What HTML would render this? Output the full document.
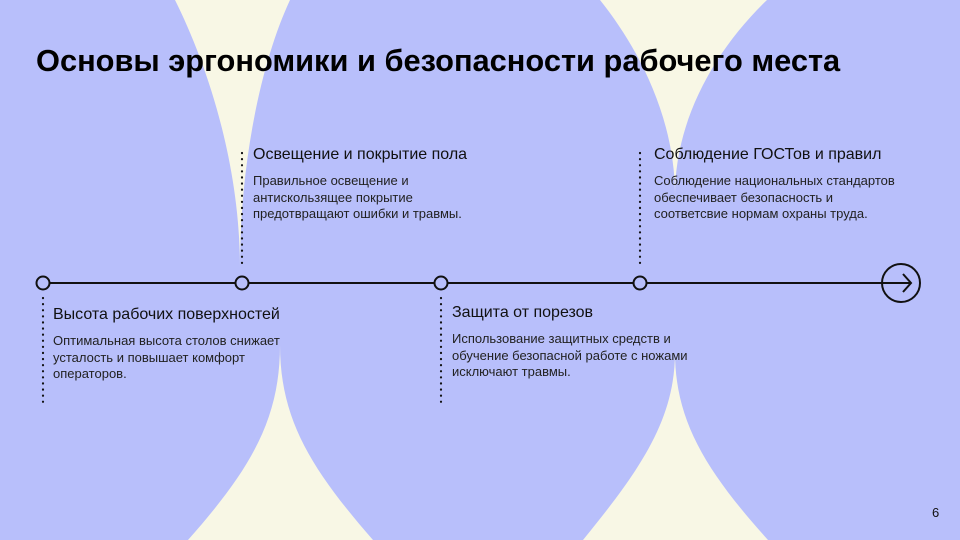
<!DOCTYPE html>
<html><head><meta charset="utf-8"><style>
body{margin:0;width:960px;height:540px;overflow:hidden;background:#b8bffb;font-family:"Liberation Sans",sans-serif;position:relative;color:#111}
svg{position:absolute;left:0;top:0}
.t{position:absolute;left:36px;top:43px;font-size:30.8px;font-weight:bold;color:#000;white-space:nowrap}
.h{position:absolute;font-size:16px;color:#111;white-space:nowrap}
.p{position:absolute;font-size:13px;line-height:16.5px;color:#222;width:240px}
</style></head><body>
<svg width="960" height="540">
<g fill="#f8f7e5">
<path d="M175,0 C205,60 240,160 240,268 C240,160 262,60 290,0 Z"/>
<path d="M188,540 C250,470 280,420 280,345 C280,420 312,470 373,540 Z"/>
<path d="M600,0 C640,50 675,120 675,195 C675,120 715,50 767,0 Z"/>
<path d="M583,540 C640,470 675,420 675,352 C675,420 705,470 768,540 Z"/>
</g>
<g stroke="#111" stroke-width="2.2" stroke-dasharray="0.1 6" stroke-linecap="round">
<line x1="242" y1="153" x2="242" y2="268"/>
<line x1="640" y1="153" x2="640" y2="268"/>
<line x1="43" y1="298" x2="43" y2="406"/>
<line x1="441" y1="298" x2="441" y2="406"/>
</g>
<line x1="49" y1="283" x2="910" y2="283" stroke="#111" stroke-width="2"/>
<g fill="#b8bffb" stroke="#111" stroke-width="2">
<circle cx="43" cy="283" r="6.5"/><circle cx="242" cy="283" r="6.5"/><circle cx="441" cy="283" r="6.5"/><circle cx="640" cy="283" r="6.5"/>
<circle cx="901" cy="283" r="19" fill="none"/>
</g>
<polyline points="903,274 911,283 903,292" fill="none" stroke="#111" stroke-width="2"/>
</svg>
<div class="t">Основы эргономики и безопасности рабочего места</div>
<div class="h" style="left:253px;top:146px">Освещение и покрытие пола</div>
<div class="p" style="left:253px;top:173px;width:225px">Правильное освещение и антискользящее покрытие предотвращают ошибки и травмы.</div>
<div class="h" style="left:654px;top:146px">Соблюдение ГОСТов и правил</div>
<div class="p" style="left:654px;top:173px;width:255px">Соблюдение национальных стандартов обеспечивает безопасность и соответсвие нормам охраны труда.</div>
<div class="h" style="left:53px;top:306px">Высота рабочих поверхностей</div>
<div class="p" style="left:53px;top:333px">Оптимальная высота столов снижает усталость и повышает комфорт операторов.</div>
<div class="h" style="left:452px;top:304px">Защита от порезов</div>
<div class="p" style="left:452px;top:331px">Использование защитных средств и обучение безопасной работе с ножами исключают травмы.</div>
<div style="position:absolute;left:932px;top:505px;font-size:13px">6</div>
</body></html>
